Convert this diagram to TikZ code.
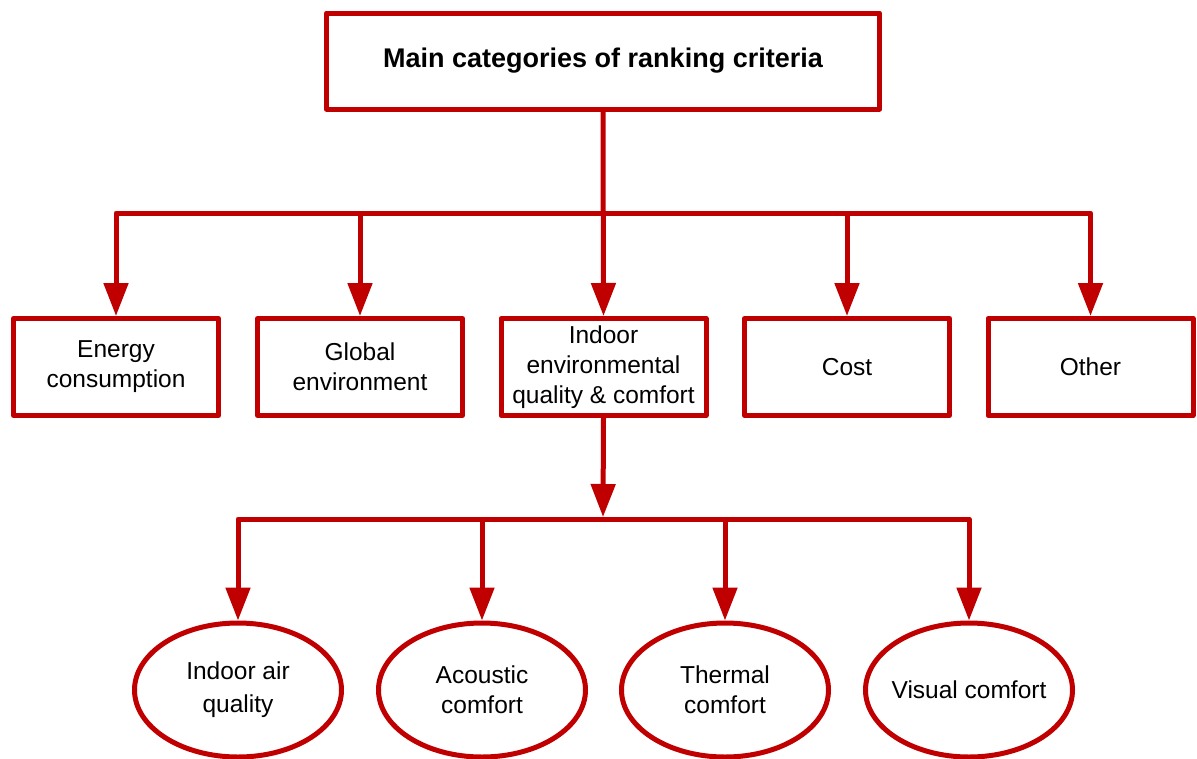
\documentclass[tikz,border=0pt]{standalone}
\usepackage{fontspec}
\setmainfont{Liberation Sans}
\usetikzlibrary{arrows.meta,shapes.geometric}
\definecolor{crimson}{HTML}{C00000}
\begin{document}
\begin{tikzpicture}[x=1pt,y=-1pt,
  font=\fontsize{24.5}{30}\selectfont,
  line width=5pt,
  txt/.style={align=center,inner sep=0pt,text=black},
  catbox/.style={draw=crimson,rectangle,line join=round,fill=white,
    minimum width=205pt,minimum height=97pt,inner sep=0pt,align=center},
  subell/.style={draw=crimson,ellipse,fill=white,
    minimum width=207pt,minimum height=134pt,inner sep=0pt},
  link/.style={draw=crimson,line join=round,
    -{Triangle[length=33pt,width=24pt]}}]
\useasboundingbox (0,0) rectangle (1197,758);

% root
\node[catbox,minimum width=553pt,minimum height=96pt,font=\fontsize{27}{32}\selectfont\bfseries]
  (root) at (603,61) {Main categories of ranking criteria};

% main categories
\node[catbox] (energy) at (116,367) {Energy\\consumption};
\node[catbox] (global) at (360,367) {Global\\environment};
\node[catbox] (ieq)    at (603.5,367) {Indoor\\environmental\\quality \& comfort};
\node[catbox] (cost)   at (847,367) {Cost};
\node[catbox] (other)  at (1090.5,367) {Other};

% IEQ sub-categories
\node[subell] (air)      at (238,690) {};
\node[subell] (acoustic) at (482,690) {};
\node[subell] (thermal)  at (725,690) {};
\node[subell] (visual)   at (969,690) {};
\node[txt] (airtxt)      at (air)      {Indoor air\\[3pt]quality};
\node[txt] (acoustictxt) at (acoustic) {Acoustic\\comfort};
\node[txt] (thermaltxt)  at (thermal)  {Thermal\\comfort};
\node[txt] (visualtxt)   at (visual)   {Visual comfort};

% first-level connectors
\coordinate (bus) at (603,213);
\draw[link] (root.south) -- (ieq.north);
\draw[link] (bus) -| (energy.north);
\draw[link] (bus) -| (global.north);
\draw[link] (bus) -| (cost.north);
\draw[link] (bus) -| (other.north);

% second-level connectors
\coordinate (subbus) at (603,519);
\coordinate (subtip) at (603,517);
\draw[link] (ieq.south) -- (subtip);
\draw[link] (subbus) -| (air.north);
\draw[link] (subbus) -| (acoustic.north);
\draw[link] (subbus) -| (thermal.north);
\draw[link] (subbus) -| (visual.north);
\end{tikzpicture}
\end{document}
